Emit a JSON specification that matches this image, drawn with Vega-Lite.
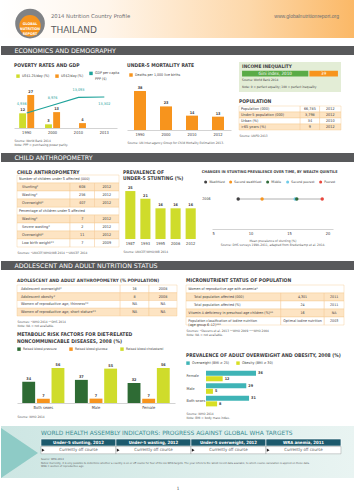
{
"$schema": "https://vega.github.io/schema/vega-lite/v6.json",
"padding": 0,
"background": "white",
"spacing": 7,
"resolve": {"scale": {"color": "independent", "xOffset": "independent", "yOffset": "independent"}, "legend": {"color": "independent"}},
"config": {
  "font": "Liberation Sans Narrow, DejaVu Sans Condensed, sans-serif",
  "view": {"stroke": null},
  "title": {"fontSize": 5, "fontWeight": "bold", "color": "#414042", "anchor": "start", "offset": 3, "frame": "group"},
  "axis": {"labelFontSize": 4, "labelColor": "#414042", "domainColor": "#b5b5b5", "domainWidth": 0.6, "ticks": false, "grid": false, "labelPadding": 2, "titleFontSize": 3.2, "titleFontWeight": "normal", "titleColor": "#58595b", "titleLineHeight": 4.2},
  "legend": {"labelFontSize": 3.6, "symbolSize": 12, "symbolType": "square", "labelColor": "#414042", "columnPadding": 5, "padding": 0, "labelOffset": 2, "symbolStrokeWidth": 0, "title": null},
  "text": {"fontSize": 3.8, "color": "#414042"},
  "concat": {"spacing": 6}
},
"vconcat": [
{
 "width": 354, "height": 38,
 "layer": [
  {"data": {"values": [{"part": "background"}]},
   "mark": {"type": "rect", "color": {"gradient": "linear", "x1": 0, "y1": 0, "x2": 1, "y2": 0, "stops": [{"offset": 0, "color": "#ffffff"}, {"offset": 0.3, "color": "#fff5ea"}, {"offset": 0.7, "color": "#fdd8aa"}, {"offset": 1, "color": "#fbb866"}]}},
   "encoding": {"x": {"datum": 0, "scale": {"domain": [0, 1]}, "axis": null}, "x2": {"datum": 1}, "y": {"datum": 0, "scale": {"domain": [0, 1], "reverse": true}, "axis": null}, "y2": {"datum": 1}}},
  {"data": {"values": [{"part": "logo"}]},
   "mark": {"type": "point", "shape": "circle", "filled": true, "color": "#808285", "size": 880, "opacity": 1},
   "encoding": {"x": {"datum": 0.082}, "y": {"datum": 0.62}}},
  {"data": {"values": [{"part": "logo"}]},
   "mark": {"type": "point", "shape": "circle", "filled": true, "color": "#f7941d", "size": 460, "opacity": 1},
   "encoding": {"x": {"datum": 0.082}, "y": {"datum": 0.68}}},
  {"data": {"values": [{"text": ["GLOBAL", "NUTRITION", "REPORT"]}]},
   "mark": {"type": "text", "color": "white", "fontWeight": "bold", "fontSize": 3.6, "lineHeight": 5.2, "font": "DejaVu Sans Condensed"},
   "encoding": {"x": {"datum": 0.082}, "y": {"datum": 0.62}, "text": {"field": "text"}}},
  {"data": {"values": [{"text": "2014 Nutrition Country Profile"}]},
   "mark": {"type": "text", "align": "left", "color": "#6d6e71", "fontSize": 5.3, "font": "DejaVu Sans"},
   "encoding": {"x": {"datum": 0.141}, "y": {"datum": 0.42}, "text": {"field": "text"}}},
  {"data": {"values": [{"text": "THAILAND"}]},
   "mark": {"type": "text", "align": "left", "color": "#58595b", "fontSize": 9, "font": "DejaVu Sans"},
   "encoding": {"x": {"datum": 0.141}, "y": {"datum": 0.78}, "text": {"field": "text"}}},
  {"data": {"values": [{"text": "www.globalnutritionreport.org"}]},
   "mark": {"type": "text", "align": "right", "color": "#6d6e71", "fontSize": 5, "font": "Liberation Sans"},
   "encoding": {"x": {"datum": 0.955}, "y": {"datum": 0.42}, "text": {"field": "text"}}}
 ]
},
{
 "width": 354, "height": 9,
 "view": {"fill": "#58595b"},
 "data": {"values": [{"section": "ECONOMICS AND DEMOGRAPHY"}]},
 "mark": {"type": "text", "align": "left", "color": "white", "fontSize": 6.3, "font": "DejaVu Sans"},
 "encoding": {"x": {"datum": 0.038, "scale": {"domain": [0, 1]}, "axis": null}, "y": {"datum": 0.5, "scale": {"domain": [0, 1]}, "axis": null}, "text": {"field": "section"}}
},
{
 "spacing": 7,
 "resolve": {"scale": {"color": "independent", "xOffset": "independent", "yOffset": "independent"}, "legend": {"color": "independent"}},
 "hconcat": [
  {"width": 6, "height": 1, "view": {"fill": "white"}, "data": {"values": []}, "mark": "point", "encoding": {}},
  {
   "width": 103, "height": 66,
   "title": {"text": "POVERTY RATES AND GDP", "offset": -6},
   "layer": [
    {"data": {"values": [
       {"year": "1990", "series": "US$1.25/day (%)", "value": 12},
       {"year": "1990", "series": "US$2/day (%)", "value": 27},
       {"year": "2000", "series": "US$1.25/day (%)", "value": 3},
       {"year": "2000", "series": "US$2/day (%)", "value": 13},
       {"year": "2010", "series": "US$2/day (%)", "value": 4}
     ]},
     "encoding": {
       "x": {"field": "year", "type": "nominal", "scale": {"domain": ["1990", "2000", "2010", "2013"], "paddingInner": 0.42, "paddingOuter": 0.2}, "axis": {"labelAngle": 0, "title": ["Source: World Bank 2014", "Note: PPP = purchasing power parity."], "titleAnchor": "start", "titleAlign": "left", "titlePadding": 4}},
       "xOffset": {"field": "series", "type": "nominal", "scale": {"domain": ["US$1.25/day (%)", "US$2/day (%)"], "paddingInner": 0.15}},
       "y": {"field": "value", "type": "quantitative", "scale": {"domain": [0, 54]}, "axis": null}
     },
     "layer": [
       {"mark": {"type": "bar"},
        "encoding": {"color": {"field": "series", "type": "nominal", "scale": {"domain": ["US$1.25/day (%)", "US$2/day (%)", "GDP per capita PPP ($)"], "range": ["#cfdc2b", "#f7941d", "#1fa39b"]},
          "legend": {"orient": "none", "legendX": 2, "legendY": 9, "direction": "horizontal", "columnPadding": 5, "labelExpr": "datum.label == 'GDP per capita PPP ($)' ? ['GDP per capita', 'PPP ($)'] : datum.label"}}}},
       {"mark": {"type": "text", "dy": -3, "fontWeight": "bold"}, "encoding": {"text": {"field": "value"}}}
     ]},
    {"data": {"values": [
       {"year": "1990", "gdp": 4936},
       {"year": "2000", "gdp": 8976},
       {"year": "2010", "gdp": 13093},
       {"year": "2013", "gdp": 13302}
     ]},
     "encoding": {
       "x": {"field": "year", "type": "nominal"},
       "y": {"field": "gdp", "type": "quantitative", "scale": {"domain": [-2908, 31611]}, "axis": null}
     },
     "layer": [
       {"mark": {"type": "line", "strokeWidth": 1.2}, "encoding": {"color": {"datum": "GDP per capita PPP ($)"}}},
       {"transform": [{"filter": "datum.year == '1990'"}], "mark": {"type": "text", "dy": -9, "dx": -5, "color": "#1fa39b"}, "encoding": {"text": {"field": "gdp", "format": ","}}},
       {"transform": [{"filter": "datum.year == '2000' || datum.year == '2010'"}], "mark": {"type": "text", "dy": -7, "color": "#1fa39b"}, "encoding": {"text": {"field": "gdp", "format": ","}}},
       {"transform": [{"filter": "datum.year == '2013'"}], "mark": {"type": "text", "dy": 7, "color": "#1fa39b"}, "encoding": {"text": {"field": "gdp", "format": ","}}}
     ]}
   ],
   "resolve": {"scale": {"y": "independent"}}
  },
  {
   "width": 104, "height": 68,
   "title": {"text": "UNDER-5 MORTALITY RATE", "offset": -6},
   "data": {"values": [{"year": "1990", "value": 38}, {"year": "2000", "value": 23}, {"year": "2010", "value": 14}, {"year": "2012", "value": 13}]},
   "encoding": {
     "x": {"field": "year", "type": "nominal", "scale": {"paddingInner": 0.54, "paddingOuter": 0.27}, "axis": {"labelAngle": 0, "title": "Source: UN Inter-agency Group for Child Mortality Estimation 2013.", "titleAnchor": "start", "titleAlign": "left", "titlePadding": 4}},
     "y": {"field": "value", "type": "quantitative", "scale": {"domain": [0, 66.3]}, "axis": null}
   },
   "layer": [
     {"mark": {"type": "bar"}, "encoding": {"color": {"datum": "Deaths per 1,000 live births", "scale": {"range": ["#f7941d"]}, "legend": {"orient": "none", "legendX": 2, "legendY": 11}}}},
     {"mark": {"type": "text", "dy": -3, "fontWeight": "bold"}, "encoding": {"text": {"field": "value"}}}
   ]
  },
  {
   "spacing": 6,
   "vconcat": [
    {
     "width": 102, "height": 30,
     "view": {"fill": "#e3edd6"},
     "data": {"values": [
       {"part": "title", "text": "INCOME INEQUALITY"},
       {"part": "bar", "label": "Gini index, 2010", "value": 39},
       {"part": "source", "text": "Source: World Bank 2014"},
       {"part": "note", "text": "Note: 0 = perfect equality; 100 = perfect inequality"}
     ]},
     "encoding": {"y": {"field": "part", "type": "nominal", "scale": {"domain": ["title", "bar", "source", "note"], "paddingInner": 0.15, "paddingOuter": 0.3}, "axis": null}},
     "layer": [
       {"transform": [{"filter": "datum.part == 'title'"}], "mark": {"type": "text", "align": "left", "fontWeight": "bold", "fontSize": 4.8}, "encoding": {"x": {"datum": 0.03, "scale": {"domain": [0, 1]}, "axis": null}, "text": {"field": "text"}}},
       {"transform": [{"filter": "datum.part == 'bar'"}], "mark": {"type": "rect", "color": "#5aab47"}, "encoding": {"x": {"datum": 0.03}, "x2": {"datum": 0.68}}},
       {"transform": [{"filter": "datum.part == 'bar'"}], "mark": {"type": "rect", "color": "#f7941d"}, "encoding": {"x": {"datum": 0.69}, "x2": {"datum": 0.97}}},
       {"transform": [{"filter": "datum.part == 'bar'"}], "mark": {"type": "text", "color": "white", "fontSize": 4.5}, "encoding": {"x": {"datum": 0.355}, "text": {"field": "label"}}},
       {"transform": [{"filter": "datum.part == 'bar'"}], "mark": {"type": "text", "color": "white", "fontSize": 4.5}, "encoding": {"x": {"datum": 0.83}, "text": {"field": "value"}}},
       {"transform": [{"filter": "datum.part == 'source' || datum.part == 'note'"}], "mark": {"type": "text", "align": "left", "fontSize": 3.2}, "encoding": {"x": {"datum": 0.03}, "text": {"field": "text"}}}
     ]
    },
    {
     "width": 102, "height": 24,
     "title": {"text": "POPULATION", "offset": 2},
     "data": {"values": [
       {"row": 1, "label": "Population (000)", "value": "66,785", "year": "2012"},
       {"row": 2, "label": "Under-5 population (000)", "value": "3,798", "year": "2012"},
       {"row": 3, "label": "Urban (%)", "value": "34", "year": "2010"},
       {"row": 4, "label": ">65 years (%)", "value": "9", "year": "2012"}
     ]},
     "encoding": {"y": {"field": "row", "type": "ordinal", "scale": {"paddingInner": 0, "paddingOuter": 0}, "axis": null},
                  "fill": {"condition": {"test": "datum.row % 2 == 0", "value": "#fde4c3"}, "value": "white"}},
     "layer": [
       {"mark": {"type": "rect", "stroke": "#f6c48a", "strokeWidth": 0.4}, "encoding": {"x": {"datum": 0, "scale": {"domain": [0, 1]}, "axis": {"title": "Source: UNPD 2013", "labels": false, "domain": false, "titleAnchor": "start", "titleAlign": "left", "titlePadding": 3}}, "x2": {"datum": 0.6}}},
       {"mark": {"type": "rect", "stroke": "#f6c48a", "strokeWidth": 0.4}, "encoding": {"x": {"datum": 0.6}, "x2": {"datum": 0.79}}},
       {"mark": {"type": "rect", "stroke": "#f6c48a", "strokeWidth": 0.4}, "encoding": {"x": {"datum": 0.79}, "x2": {"datum": 1}}},
       {"mark": {"type": "text", "align": "left"}, "encoding": {"x": {"datum": 0.02}, "text": {"field": "label"}, "fill": {"value": "#414042"}}},
       {"mark": {"type": "text"}, "encoding": {"x": {"datum": 0.695}, "text": {"field": "value"}, "fill": {"value": "#414042"}}},
       {"mark": {"type": "text"}, "encoding": {"x": {"datum": 0.895}, "text": {"field": "year"}, "fill": {"value": "#414042"}}}
     ]
    }
   ]
  }
 ]
},
{
 "width": 354, "height": 9,
 "view": {"fill": "#58595b"},
 "data": {"values": [{"section": "CHILD ANTHROPOMETRY"}]},
 "mark": {"type": "text", "align": "left", "color": "white", "fontSize": 6.3, "font": "DejaVu Sans"},
 "encoding": {"x": {"datum": 0.038, "scale": {"domain": [0, 1]}, "axis": null}, "y": {"datum": 0.5, "scale": {"domain": [0, 1]}, "axis": null}, "text": {"field": "section"}}
},
{
 "spacing": 3,
 "resolve": {"scale": {"color": "independent", "xOffset": "independent", "yOffset": "independent"}, "legend": {"color": "independent"}},
 "hconcat": [
  {"width": 12, "height": 1, "view": {"fill": "white"}, "data": {"values": []}, "mark": "point", "encoding": {}},
  {
   "width": 102, "height": 78,
   "title": {"text": "CHILD ANTHROPOMETRY", "offset": -6},
   "data": {"values": [
     {"row": 1, "kind": "header", "label": "Number of children under 5 affected (000)"},
     {"row": 2, "kind": "data", "label": "Stunting*", "value": "608", "year": "2012"},
     {"row": 3, "kind": "data", "label": "Wasting*", "value": "256", "year": "2012"},
     {"row": 4, "kind": "data", "label": "Overweight*", "value": "407", "year": "2012"},
     {"row": 5, "kind": "header", "label": "Percentage of children under 5 affected"},
     {"row": 6, "kind": "data", "label": "Wasting*", "value": "7", "year": "2012"},
     {"row": 7, "kind": "data", "label": "Severe wasting*", "value": "2", "year": "2012"},
     {"row": 8, "kind": "data", "label": "Overweight*", "value": "11", "year": "2012"},
     {"row": 9, "kind": "data", "label": "Low birth weight**", "value": "7", "year": "2009"}
   ]},
   "encoding": {"y": {"field": "row", "type": "ordinal", "scale": {"paddingInner": 0, "paddingOuter": 0.375, "align": 1}, "axis": null}},
   "layer": [
     {"transform": [{"filter": "datum.kind == 'header'"}], "mark": {"type": "rect", "fill": "white", "stroke": "#f6c48a", "strokeWidth": 0.4}, "encoding": {"x": {"datum": 0, "scale": {"domain": [0, 1]}, "axis": {"title": "Sources: *UNICEF/WHO/WB 2014 **UNICEF 2014", "labels": false, "domain": false, "titleAnchor": "start", "titleAlign": "left", "titlePadding": 3}}, "x2": {"datum": 1}}},
     {"transform": [{"filter": "datum.kind != 'header'"}], "mark": {"type": "rect", "stroke": "#f6c48a", "strokeWidth": 0.4}, "encoding": {"x": {"datum": 0}, "x2": {"datum": 0.52}, "fill": {"condition": {"test": "datum.row % 2 == 0", "value": "#fde4c3"}, "value": "white"}}},
     {"transform": [{"filter": "datum.kind != 'header'"}], "mark": {"type": "rect", "stroke": "#f6c48a", "strokeWidth": 0.4}, "encoding": {"x": {"datum": 0.52}, "x2": {"datum": 0.76}, "fill": {"condition": {"test": "datum.row % 2 == 0", "value": "#fde4c3"}, "value": "white"}}},
     {"transform": [{"filter": "datum.kind != 'header'"}], "mark": {"type": "rect", "stroke": "#f6c48a", "strokeWidth": 0.4}, "encoding": {"x": {"datum": 0.76}, "x2": {"datum": 1}, "fill": {"condition": {"test": "datum.row % 2 == 0", "value": "#fde4c3"}, "value": "white"}}},
     {"transform": [{"filter": "datum.kind == 'header'"}], "mark": {"type": "text", "align": "left", "fontSize": 3.7}, "encoding": {"x": {"datum": 0.02}, "text": {"field": "label"}}},
     {"transform": [{"filter": "datum.kind != 'header'"}], "mark": {"type": "text", "align": "left"}, "encoding": {"x": {"datum": 0.05}, "text": {"field": "label"}}},
     {"transform": [{"filter": "datum.kind != 'header'"}], "mark": {"type": "text"}, "encoding": {"x": {"datum": 0.64}, "text": {"field": "value"}}},
     {"transform": [{"filter": "datum.kind != 'header'"}], "mark": {"type": "text"}, "encoding": {"x": {"datum": 0.88}, "text": {"field": "year"}}}
   ]
  },
  {
   "width": 75, "height": 70,
   "title": {"text": ["PREVALENCE OF", "UNDER-5 STUNTING (%)"], "offset": -11.5, "lineHeight": 5.5},
   "data": {"values": [{"year": "1987", "value": 25}, {"year": "1993", "value": 21}, {"year": "1995", "value": 16}, {"year": "2006", "value": 16}, {"year": "2012", "value": 16}]},
   "encoding": {
     "x": {"field": "year", "type": "nominal", "scale": {"paddingInner": 0.33, "paddingOuter": 0.15}, "axis": {"labelAngle": 0, "domain": false, "title": "Source: UNICEF/WHO/WB 2014", "titleAnchor": "start", "titleAlign": "left", "titlePadding": 4}},
     "y": {"field": "value", "type": "quantitative", "scale": {"domain": [0, 36.5]}, "axis": null}
   },
   "layer": [
     {"mark": {"type": "bar", "color": "#cfdc2b"}},
     {"mark": {"type": "text", "dy": -3, "fontWeight": "bold"}, "encoding": {"text": {"field": "value"}}}
   ]
  },
  {
   "width": 121, "height": 60,
   "title": {"text": "CHANGES IN STUNTING PREVALENCE OVER TIME, BY WEALTH QUINTILE", "fontSize": 3.8, "frame": "bounds", "offset": -5},
   "data": {"values": [
     {"year": "2006", "quintile": "Second poorest", "value": 15.8},
     {"year": "2006", "quintile": "Wealthiest", "value": 8.4},
     {"year": "2006", "quintile": "Second wealthiest", "value": 11.5},
     {"year": "2006", "quintile": "Middle", "value": 16.0},
     {"year": "2006", "quintile": "Poorest", "value": 19.3}
   ]},
   "encoding": {"y": {"field": "year", "type": "nominal", "scale": {"padding": 0, "align": 0.917}, "axis": {"title": null, "labelPadding": 2, "labelFontSize": 3.6, "domain": false}}},
   "layer": [
     {"mark": {"type": "rule", "color": "#9d9d9d", "strokeWidth": 0.8},
      "encoding": {"x": {"aggregate": "min", "field": "value", "type": "quantitative", "scale": {"domain": [5, 20.7], "nice": false, "zero": false}, "axis": {"values": [5, 10, 15, 20], "title": ["Mean prevalence of stunting (%)", "Source: DHS surveys 1990–2011, adapted from Bredenkamp et al. 2014."], "titlePadding": 3}}, "x2": {"aggregate": "max", "field": "value"}}},
     {"mark": {"type": "point", "filled": true, "size": 12, "opacity": 1},
      "encoding": {"x": {"field": "value", "type": "quantitative"},
        "color": {"field": "quintile", "type": "nominal", "scale": {"domain": ["Wealthiest", "Second wealthiest", "Middle", "Second poorest", "Poorest"], "range": ["#414042", "#f7941d", "#2f6b3a", "#6ecbe8", "#e8463c"]},
          "legend": {"orient": "none", "legendX": -8, "legendY": 11, "direction": "horizontal", "symbolType": "circle", "columnPadding": 4, "symbolSize": 9, "labelFontSize": 3.3}}}}
   ]
  }
 ]
},
{
 "width": 354, "height": 9,
 "view": {"fill": "#58595b"},
 "data": {"values": [{"section": "ADOLESCENT AND ADULT NUTRITION STATUS"}]},
 "mark": {"type": "text", "align": "left", "color": "white", "fontSize": 6.3, "font": "DejaVu Sans"},
 "encoding": {"x": {"datum": 0.038, "scale": {"domain": [0, 1]}, "axis": null}, "y": {"datum": 0.5, "scale": {"domain": [0, 1]}, "axis": null}, "text": {"field": "section"}}
},
{
 "spacing": 7,
 "resolve": {"scale": {"color": "independent", "xOffset": "independent", "yOffset": "independent"}, "legend": {"color": "independent"}},
 "hconcat": [
  {"width": 8, "height": 1, "view": {"fill": "white"}, "data": {"values": []}, "mark": "point", "encoding": {}},
  {
   "spacing": 5,
   "resolve": {"scale": {"color": "independent", "xOffset": "independent"}, "legend": {"color": "independent"}},
   "vconcat": [
    {
     "width": 160, "height": 31,
     "title": {"text": "ADOLESCENT AND ADULT ANTHROPOMETRY (% POPULATION)", "offset": 2, "fontSize": 4.6},
     "data": {"values": [
       {"row": 1, "label": "Adolescent overweight*", "value": "16", "year": "2008"},
       {"row": 2, "label": "Adolescent obesity*", "value": "8", "year": "2008"},
       {"row": 3, "label": "Women of reproductive age, thinness**", "value": "NA", "year": "NA"},
       {"row": 4, "label": "Women of reproductive age, short stature**", "value": "NA", "year": "NA"}
     ]},
     "encoding": {"y": {"field": "row", "type": "ordinal", "scale": {"paddingInner": 0, "paddingOuter": 0}, "axis": null}},
     "layer": [
       {"mark": {"type": "rect", "stroke": "#f6c48a", "strokeWidth": 0.4}, "encoding": {"x": {"datum": 0, "scale": {"domain": [0, 1]}, "axis": {"title": ["Sources: *WHO 2014 **DHS 2014", "Note: NA = not available."], "labels": false, "domain": false, "titleAnchor": "start", "titleAlign": "left", "titlePadding": 3}}, "x2": {"datum": 0.645}, "fill": {"condition": {"test": "datum.row % 2 == 0", "value": "#fde4c3"}, "value": "white"}}},
       {"mark": {"type": "rect", "stroke": "#f6c48a", "strokeWidth": 0.4}, "encoding": {"x": {"datum": 0.645}, "x2": {"datum": 0.825}, "fill": {"condition": {"test": "datum.row % 2 == 0", "value": "#fde4c3"}, "value": "white"}}},
       {"mark": {"type": "rect", "stroke": "#f6c48a", "strokeWidth": 0.4}, "encoding": {"x": {"datum": 0.825}, "x2": {"datum": 1}, "fill": {"condition": {"test": "datum.row % 2 == 0", "value": "#fde4c3"}, "value": "white"}}},
       {"mark": {"type": "text", "align": "left"}, "encoding": {"x": {"datum": 0.025}, "text": {"field": "label"}}},
       {"mark": {"type": "text"}, "encoding": {"x": {"datum": 0.735}, "text": {"field": "value"}}},
       {"mark": {"type": "text"}, "encoding": {"x": {"datum": 0.9125}, "text": {"field": "year"}}}
     ]
    },
    {
     "width": 158, "height": 46,
     "title": {"text": ["METABOLIC RISK FACTORS FOR DIET-RELATED", "NONCOMMUNICABLE DISEASES, 2008 (%)"], "lineHeight": 7, "offset": 3},
     "data": {"values": [
       {"sex": "Both sexes", "factor": "Raised blood pressure", "value": 34},
       {"sex": "Both sexes", "factor": "Raised blood glucose", "value": 7},
       {"sex": "Both sexes", "factor": "Raised blood cholesterol", "value": 56},
       {"sex": "Male", "factor": "Raised blood pressure", "value": 37},
       {"sex": "Male", "factor": "Raised blood glucose", "value": 7},
       {"sex": "Male", "factor": "Raised blood cholesterol", "value": 55},
       {"sex": "Female", "factor": "Raised blood pressure", "value": 32},
       {"sex": "Female", "factor": "Raised blood glucose", "value": 7},
       {"sex": "Female", "factor": "Raised blood cholesterol", "value": 56}
     ]},
     "encoding": {
       "x": {"field": "sex", "type": "nominal", "scale": {"domain": ["Both sexes", "Male", "Female"], "paddingInner": 0.2, "paddingOuter": 0.1}, "axis": {"labelAngle": 0, "title": "Source: WHO 2014", "titleAnchor": "start", "titleAlign": "left", "titlePadding": 5}},
       "xOffset": {"field": "factor", "type": "nominal", "scale": {"domain": ["Raised blood pressure", "Raised blood glucose", "Raised blood cholesterol"], "paddingInner": 0.12}},
       "y": {"field": "value", "type": "quantitative", "scale": {"domain": [0, 73.6]}, "axis": null}
     },
     "layer": [
       {"mark": {"type": "bar"}, "encoding": {"color": {"field": "factor", "type": "nominal", "scale": {"domain": ["Raised blood pressure", "Raised blood glucose", "Raised blood cholesterol"], "range": ["#2e6b34", "#f7941d", "#cfdc2b"]}, "legend": {"orient": "top", "offset": 6, "columnPadding": 12, "labelFontSize": 3.4}}}},
       {"mark": {"type": "text", "dy": -3, "fontWeight": "bold"}, "encoding": {"text": {"field": "value"}}}
     ]
    }
   ]
  },
  {
   "spacing": 17,
   "resolve": {"scale": {"color": "independent", "yOffset": "independent"}, "legend": {"color": "independent"}},
   "vconcat": [
    {
     "width": 158, "height": 40,
     "title": {"text": "MICRONUTRIENT STATUS OF POPULATION", "offset": 2},
     "data": {"values": [
       {"row": 1, "kind": "header", "label": "Women of reproductive age with anaemia*"},
       {"row": 2, "kind": "sub", "label": "Total population affected (000)", "value": "4,301", "year": "2011"},
       {"row": 3, "kind": "sub", "label": "Total population affected (%)", "value": "24", "year": "2011"},
       {"row": 4, "kind": "data", "label": "Vitamin A deficiency in preschool-age children (%)**", "value": "16", "year": "NA"},
       {"row": 5, "kind": "data", "label": ["Population classification of iodine nutrition", "(age group 6–12)***"], "value": "Optimal iodine nutrition", "year": "2003"}
     ]},
     "encoding": {"y": {"field": "row", "type": "ordinal", "scale": {"paddingInner": 0, "paddingOuter": 0}, "axis": null}},
     "layer": [
       {"transform": [{"filter": "datum.kind == 'header'"}], "mark": {"type": "rect", "fill": "white", "stroke": "#f6c48a", "strokeWidth": 0.4}, "encoding": {"x": {"datum": 0, "scale": {"domain": [0, 1]}, "axis": {"title": ["Sources: *Stevens et al. 2013 **WHO 2009 ***WHO 2004", "Note: NA = not available."], "labels": false, "domain": false, "titleAnchor": "start", "titleAlign": "left", "titlePadding": 3}}, "x2": {"datum": 1}}},
       {"transform": [{"filter": "datum.kind != 'header'"}], "mark": {"type": "rect", "stroke": "#f6c48a", "strokeWidth": 0.4}, "encoding": {"x": {"datum": 0}, "x2": {"datum": 0.6}, "fill": {"condition": {"test": "datum.row % 2 == 0", "value": "#fde4c3"}, "value": "white"}}},
       {"transform": [{"filter": "datum.kind != 'header'"}], "mark": {"type": "rect", "stroke": "#f6c48a", "strokeWidth": 0.4}, "encoding": {"x": {"datum": 0.6}, "x2": {"datum": 0.875}, "fill": {"condition": {"test": "datum.row % 2 == 0", "value": "#fde4c3"}, "value": "white"}}},
       {"transform": [{"filter": "datum.kind != 'header'"}], "mark": {"type": "rect", "stroke": "#f6c48a", "strokeWidth": 0.4}, "encoding": {"x": {"datum": 0.875}, "x2": {"datum": 1}, "fill": {"condition": {"test": "datum.row % 2 == 0", "value": "#fde4c3"}, "value": "white"}}},
       {"transform": [{"filter": "datum.kind == 'header' || datum.kind == 'data'"}], "mark": {"type": "text", "align": "left", "lineHeight": 4, "fontSize": 3.6}, "encoding": {"x": {"datum": 0.015}, "text": {"field": "label"}}},
       {"transform": [{"filter": "datum.kind == 'sub'"}], "mark": {"type": "text", "align": "left", "fontSize": 3.6}, "encoding": {"x": {"datum": 0.05}, "text": {"field": "label"}}},
       {"transform": [{"filter": "datum.kind != 'header'"}], "mark": {"type": "text", "fontSize": 3.6}, "encoding": {"x": {"datum": 0.7375}, "text": {"field": "value"}}},
       {"transform": [{"filter": "datum.kind != 'header'"}], "mark": {"type": "text", "fontSize": 3.6}, "encoding": {"x": {"datum": 0.9375}, "text": {"field": "year"}}}
     ]
    },
    {
     "width": 90, "height": 37,
     "title": {"text": "PREVALENCE OF ADULT OVERWEIGHT AND OBESITY, 2008 (%)", "offset": 3},
     "data": {"values": [
       {"sex": "Female", "measure": "Overweight (BMI ≥ 25)", "value": 36},
       {"sex": "Female", "measure": "Obesity (BMI ≥ 30)", "value": 12},
       {"sex": "Male", "measure": "Overweight (BMI ≥ 25)", "value": 29},
       {"sex": "Male", "measure": "Obesity (BMI ≥ 30)", "value": 5},
       {"sex": "Both sexes", "measure": "Overweight (BMI ≥ 25)", "value": 31},
       {"sex": "Both sexes", "measure": "Obesity (BMI ≥ 30)", "value": 8}
     ]},
     "encoding": {
       "y": {"field": "sex", "type": "nominal", "scale": {"domain": ["Female", "Male", "Both sexes"], "paddingInner": 0.15, "paddingOuter": 0.05}, "axis": null},
       "x": {"field": "value", "type": "quantitative", "scale": {"domain": [-14.4, 50.4], "nice": false, "zero": false}, "axis": {"labels": false, "domain": false, "title": ["Source: WHO 2014", "Note: BMI = body mass index."], "titleAnchor": "start", "titleAlign": "left", "titlePadding": 4}}
     },
     "layer": [
       {"mark": {"type": "bar"}, "encoding": {
         "yOffset": {"field": "measure", "type": "nominal", "scale": {"domain": ["Overweight (BMI ≥ 25)", "Obesity (BMI ≥ 30)"], "paddingInner": 0.1}},
         "x2": {"datum": 0},
         "color": {"field": "measure", "type": "nominal", "scale": {"domain": ["Overweight (BMI ≥ 25)", "Obesity (BMI ≥ 30)"], "range": ["#3fb4b6", "#d7df23"]}, "legend": {"orient": "none", "legendX": 0, "legendY": -9, "direction": "horizontal", "columnPadding": 6}}}},
       {"mark": {"type": "text", "align": "left", "dx": 2, "fontWeight": "bold"}, "encoding": {
         "yOffset": {"field": "measure", "type": "nominal", "scale": {"domain": ["Overweight (BMI ≥ 25)", "Obesity (BMI ≥ 30)"], "paddingInner": 0.1}},
         "text": {"field": "value"}}},
       {"transform": [{"filter": "datum.measure == 'Overweight (BMI ≥ 25)'"}], "mark": {"type": "text", "align": "left", "fontSize": 3.8}, "encoding": {"x": {"datum": -14}, "text": {"field": "sex"}}}
     ]
    }
   ]
  }
 ]
},
{
 "width": 354, "height": 52,
 "layer": [
  {"layer": [
    {"data": {"values": [{"part": "band"}]},
     "mark": {"type": "rect", "color": {"gradient": "linear", "x1": 0, "y1": 0, "x2": 1, "y2": 0, "stops": [{"offset": 0, "color": "#cde6e3"}, {"offset": 1, "color": "#e9f4f2"}]}},
     "encoding": {"x": {"datum": 0, "scale": {"domain": [0, 1]}, "axis": null}, "x2": {"datum": 1}, "y": {"datum": 0, "scale": {"domain": [0, 1], "reverse": true}, "axis": null}, "y2": {"datum": 1}}},
    {"data": {"values": [{"part": "arrow"}]},
     "mark": {"type": "point", "shape": "M-1,-1L0.48,0L-1,1Z", "filled": true, "size": 2500, "opacity": 1, "color": "#8ecbc6"},
     "encoding": {"x": {"datum": 0.0706}, "y": {"datum": 0.52}}},
    {"data": {"values": [{"text": "WORLD HEALTH ASSEMBLY INDICATORS: PROGRESS AGAINST GLOBAL WHA TARGETS"}]},
     "mark": {"type": "text", "align": "left", "font": "DejaVu Sans", "fontSize": 5.9, "color": "#3b8e93"},
     "encoding": {"x": {"datum": 0.113}, "y": {"datum": 0.135}, "text": {"field": "text"}}},
    {"data": {"values": [{"text": ["Source: WHA 2014", "Notes: Currently, it is only possible to determine whether a country is on or off course for four of the six WHA targets. The year refers to the latest recent data available, to which course calculation is applied on these data.", "WRA = women of reproductive age."]}]},
     "mark": {"type": "text", "align": "left", "baseline": "top", "fontSize": 2.7, "lineHeight": 3.4, "color": "#58595b"},
     "encoding": {"x": {"datum": 0.113}, "y": {"datum": 0.6}, "text": {"field": "text"}}}
  ]},
  {"data": {"values": [
     {"col": "Under-5 stunting, 2012", "status": "Currently off course"},
     {"col": "Under-5 wasting, 2012", "status": "Currently off course"},
     {"col": "Under-5 overweight, 2012", "status": "Currently off course"},
     {"col": "WRA anemia, 2011", "status": "Currently off course"}
   ]},
   "encoding": {"x": {"field": "col", "type": "nominal", "sort": null, "scale": {"paddingInner": 0, "paddingOuter": 0.36, "align": 0.74}, "axis": null}},
   "layer": [
     {"mark": {"type": "rect", "color": "#1d5a6d", "stroke": "white", "strokeWidth": 0.6}, "encoding": {"y": {"datum": 0.25}, "y2": {"datum": 0.385}}},
     {"mark": {"type": "rect", "fill": "white", "stroke": "#8a8a8a", "strokeWidth": 0.4}, "encoding": {"y": {"datum": 0.395}, "y2": {"datum": 0.535}}},
     {"mark": {"type": "text", "color": "white", "fontWeight": "bold", "fontSize": 4.3}, "encoding": {"y": {"datum": 0.318}, "text": {"field": "col"}}},
     {"mark": {"type": "text", "color": "#58595b", "fontSize": 4.3}, "encoding": {"y": {"datum": 0.465}, "text": {"field": "status"}}},
     {"mark": {"type": "point", "shape": "triangle-right", "filled": true, "color": "#231f20", "size": 10, "opacity": 1}, "encoding": {"x": {"field": "col", "type": "nominal", "sort": null, "bandPosition": 0.03}, "y": {"datum": 0.465}}}
   ]}
 ],
 "resolve": {"scale": {"x": "independent"}}
},
{
 "width": 354, "height": 4,
 "data": {"values": [{"page": "1"}]},
 "mark": {"type": "text", "fontSize": 4.5},
 "encoding": {"x": {"datum": 0.5, "scale": {"domain": [0, 1]}, "axis": null}, "y": {"datum": 0.5, "scale": {"domain": [0, 1]}, "axis": null}, "text": {"field": "page"}}
}
]
}
